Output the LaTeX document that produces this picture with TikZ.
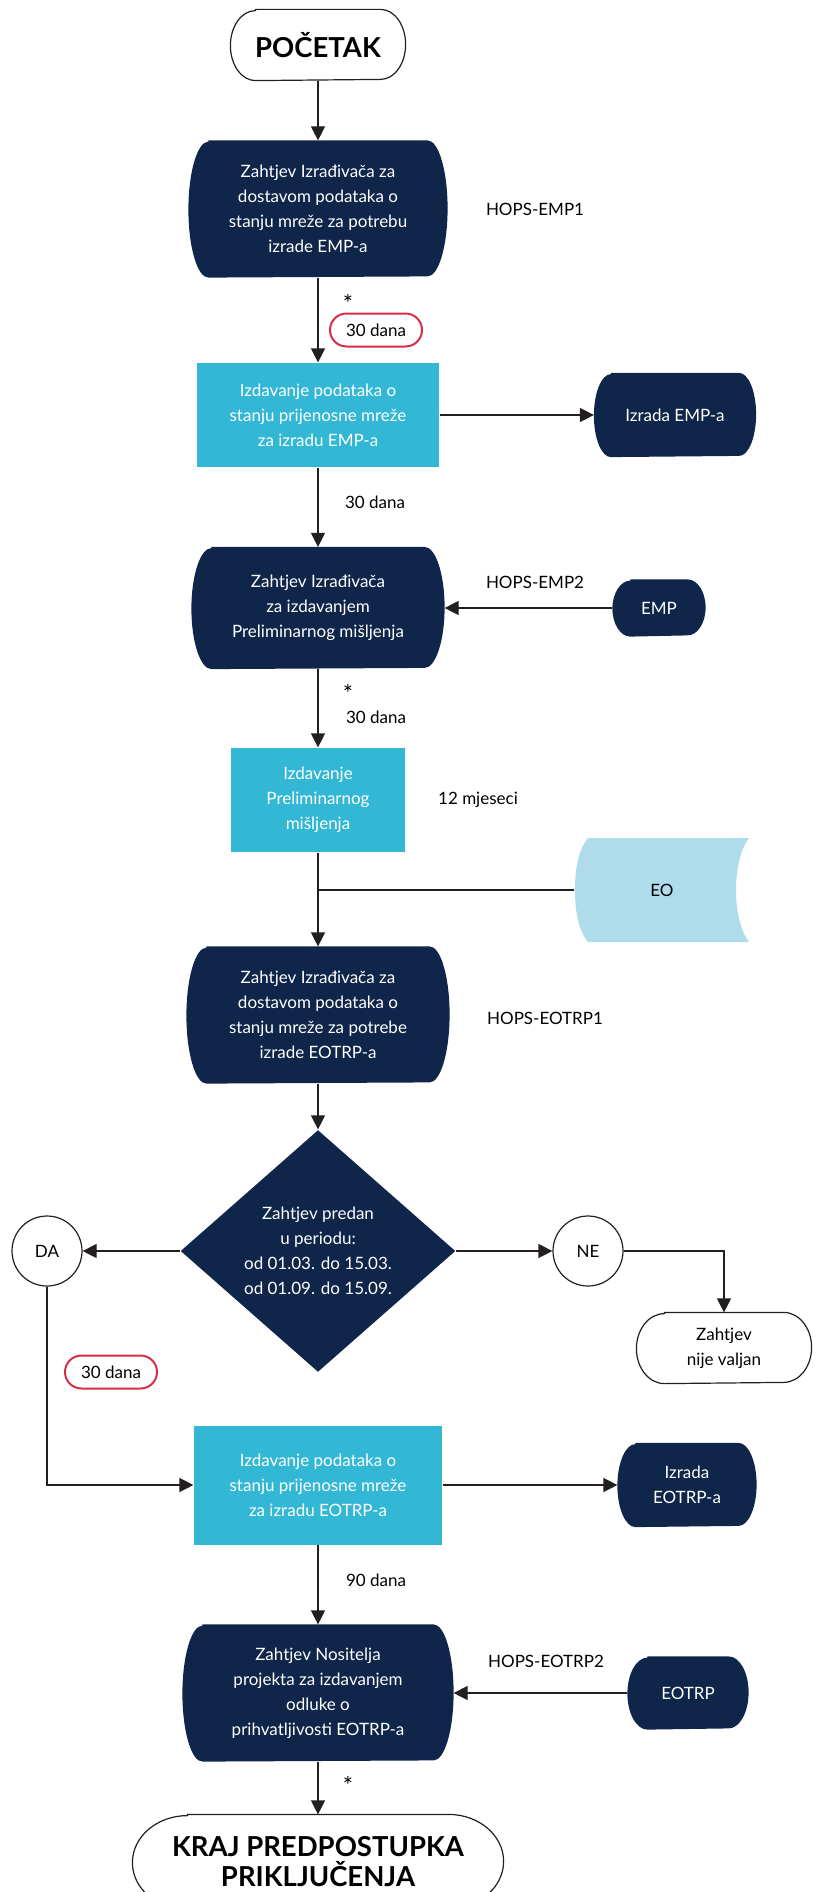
\documentclass[tikz,border=0pt]{standalone}
\usepackage{fontspec}
\setmainfont{Lato}
\usetikzlibrary{arrows.meta,shapes.geometric,shapes.misc,backgrounds}
\definecolor{tamna}{HTML}{0F2549}
\definecolor{cijan}{HTML}{32B7D5}
\definecolor{svijetla}{HTML}{AEDCEB}
\definecolor{crvena}{HTML}{D62E45}
\definecolor{linija}{HTML}{231F20}
\begin{document}
\begin{tikzpicture}[>={Triangle[length=14pt,width=14pt]},x=1pt,y=-1pt,line width=1.2pt,draw=linija,
    txt/.style={font=\fontsize{17}{25}\selectfont,align=center,inner sep=0pt},
    kraj/.style={txt,font=\fontsize{27.5}{30}\selectfont\bfseries},
    tamni/.style={txt,text=white},
    cijanski/.style={txt,rectangle,fill=cijan,text=white},
    krug/.style={txt,circle,draw,fill=white,minimum size=70pt},
    zvj/.style={txt,font=\fontsize{24}{25}\selectfont},
    rok/.style={txt,rounded rectangle,draw=crvena,line width=2pt,minimum width=92pt,minimum height=33pt}]
    \clip (0,0) rectangle (821,1892);
    % glavni tok
    \node[kraj,minimum width=174pt,minimum height=70pt] (poc) at (318,45) {POČETAK};
    \node[tamni,minimum width=258pt,minimum height=136pt] (b1) at (318,209) {Zahtjev Izrađivača za\\dostavom podataka o\\stanju mreže za potrebu\\izrade EMP-a};
    \node[txt] (hops1) at (535,209) {HOPS-EMP1};
    \node[zvj] (z1) at (348,303) {*};
    \node[rok] (rok1) at (376,330) {30 dana};
    \node[cijanski,minimum width=242pt,minimum height=104pt] (b2) at (318,415) {Izdavanje podataka o\\stanju prijenosne mreže\\za izradu EMP-a};
    \node[tamni,minimum width=161pt,minimum height=83pt] (emp1) at (675,415) {Izrada EMP-a};
    \node[txt] (d1) at (375,502) {30 dana};
    \node[tamni,minimum width=252pt,minimum height=121pt] (b3) at (318,608) {Zahtjev Izrađivača\\za izdavanjem\\Preliminarnog mišljenja};
    \node[txt] (hops2) at (535,582) {HOPS-EMP2};
    \node[tamni,minimum width=92pt,minimum height=56pt] (emp) at (659,608) {EMP};
    \node[zvj] (z2) at (348,693) {*};
    \node[txt] (d2) at (376,717) {30 dana};
    \node[cijanski,minimum width=174pt,minimum height=104pt] (b4) at (318,800) {Izdavanje\\Preliminarnog\\mišljenja};
    \node[txt] (mj) at (478,800) {12 mjeseci};
    \fill[svijetla] (588,838) -- (749,838) .. controls (740,850) and (736,870) .. (736,890) .. controls (736,910) and (740,930) .. (749,942) -- (588,942) .. controls (578,930) and (575,910) .. (575,890) .. controls (575,870) and (578,850) .. cycle;
    \node[txt,minimum width=174pt,minimum height=104pt] (eo) at (662,890) {EO};
    \node[tamni,minimum width=262pt,minimum height=136pt] (b5) at (318,1015) {Zahtjev Izrađivača za\\dostavom podataka o\\stanju mreže za potrebe\\izrade EOTRP-a};
    \node[txt] (hops3) at (545,1018) {HOPS-EOTRP1};
    % odluka
    \node[txt,diamond,fill=tamna,text=white,minimum width=275pt,minimum height=242pt] (odl) at (318,1251) {Zahtjev predan\\u periodu:\\od 01.03. do 15.03.\\od 01.09. do 15.09.};
    \node[krug] (da) at (47,1251) {DA};
    \node[krug] (ne) at (588,1251) {NE};
    \node[txt,minimum width=174pt,minimum height=70pt] (nv) at (724,1348) {Zahtjev\\nije valjan};
    \node[rok] (rok2) at (111,1372) {30 dana};
    \node[cijanski,minimum width=248pt,minimum height=119pt] (b6) at (318,1485) {Izdavanje podataka o\\stanju prijenosne mreže\\za izradu EOTRP-a};
    \node[tamni,minimum width=138pt,minimum height=83pt] (eotrp1) at (687,1485) {Izrada\\EOTRP-a};
    \node[txt] (d3) at (376,1580) {90 dana};
    \node[tamni,minimum width=270pt,minimum height=136pt] (b7) at (318,1693) {Zahtjev Nositelja\\projekta za izdavanjem\\odluke o\\prihvatljivosti EOTRP-a};
    \node[txt] (hops4) at (546,1661) {HOPS-EOTRP2};
    \node[tamni,minimum width=120pt,minimum height=72pt] (eotrp) at (688,1693) {EOTRP};
    \node[zvj] (z3) at (348,1785) {*};
    \node[kraj,minimum width=370pt,minimum height=94pt] (kraj) at (318,1862) {KRAJ PREDPOSTUPKA\\PRIKLJUČENJA};
    % oblici s ispupčenim stranama
    \begin{scope}[on background layer]
        \foreach \n/\rx/\ry in {b1/20/68,b3/20/60.5,b5/20/68,b7/20/68,emp1/17/41.5,emp/18/28,eotrp1/18/41.5,eotrp/20/36}
            \fill[tamna] ([xshift=\rx pt]\n.north west) -- ([xshift=-\rx pt]\n.north east)
                arc[start angle=90,end angle=-90,x radius=\rx pt,y radius=\ry pt]
                -- ([xshift=\rx pt]\n.south west)
                arc[start angle=270,end angle=90,x radius=\rx pt,y radius=\ry pt] -- cycle;
        \foreach \n/\rx/\ry in {poc/25/35,nv/28/35,kraj/55/47}
            \draw[fill=white,line width=1.2pt,draw=linija] ([xshift=\rx pt]\n.north west) -- ([xshift=-\rx pt]\n.north east)
                arc[start angle=90,end angle=-90,x radius=\rx pt,y radius=\ry pt]
                -- ([xshift=\rx pt]\n.south west)
                arc[start angle=270,end angle=90,x radius=\rx pt,y radius=\ry pt] -- cycle;
    \end{scope}
    % veze
    \draw[->] (poc) -- (b1);
    \draw[->] (b1) -- (b2);
    \draw[->] (b2) -- (emp1);
    \draw[->] (b2) -- (b3);
    \draw[->] (emp) -- (b3);
    \draw[->] (b3) -- (b4);
    \draw[->] (b4) -- (b5);
    \draw (eo.west) -- (eo.west -| b4.south);
    \draw[->] (b5) -- (odl);
    \draw[->] (odl) -- (da);
    \draw[->] (odl) -- (ne);
    \draw[->] (ne) -| (nv);
    \draw[->] (da) |- (b6);
    \draw[->] (b6) -- (eotrp1);
    \draw[->] (b6) -- (b7);
    \draw[->] (eotrp) -- (b7);
    \draw[->] (b7) -- (kraj);
\end{tikzpicture}
\end{document}
